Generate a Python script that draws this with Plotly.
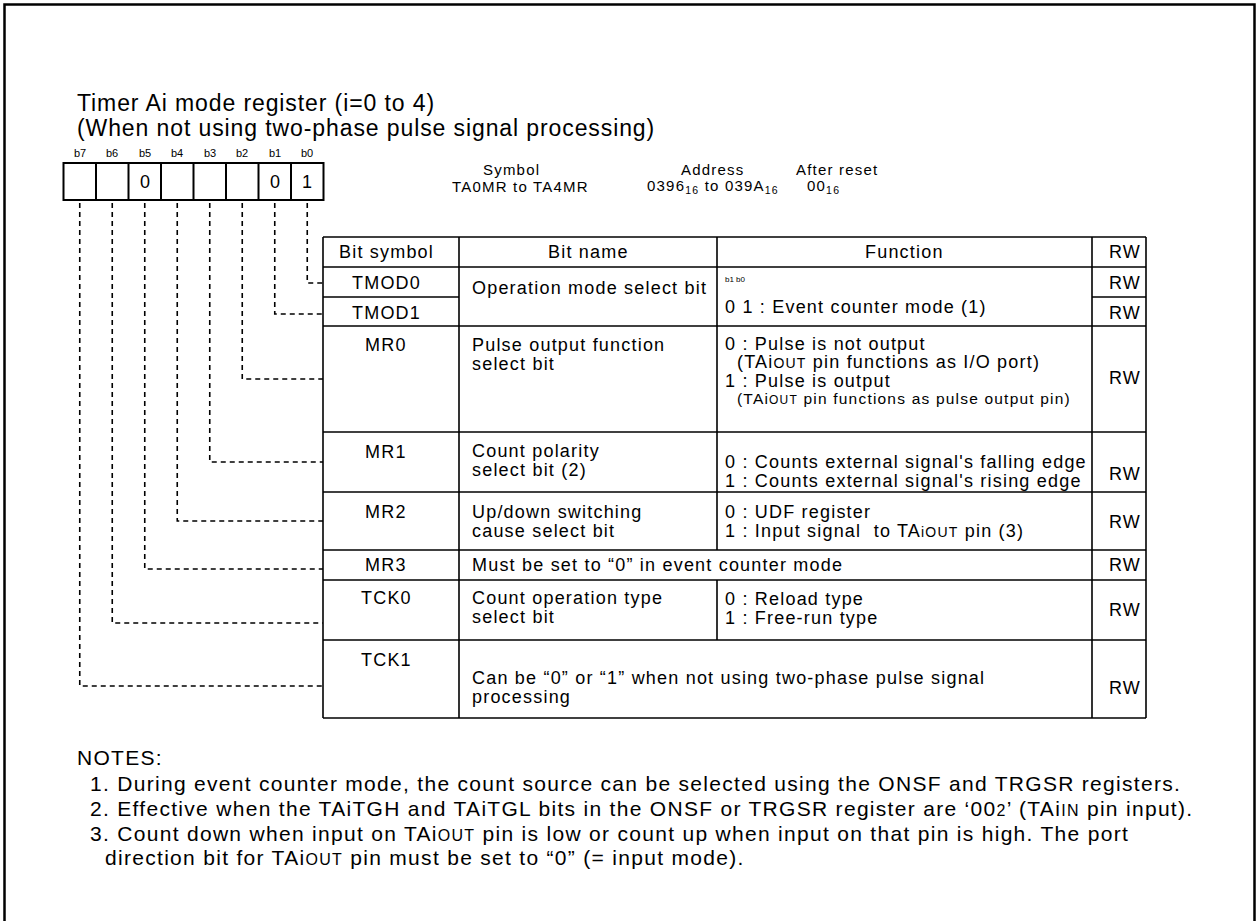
import plotly.graph_objects as go

W, H = 1257, 921
FONT = "Liberation Sans, Arial, Helvetica, sans-serif"


def sc(s, size=14):
    return f"<span style='font-size:{size}px'>{s}</span>"


# ---------------- data ----------------
title_lines = ["Timer Ai mode register (i=0 to 4)",
               "(When not using two-phase pulse signal processing)"]
bit_labels = ["b7", "b6", "b5", "b4", "b3", "b2", "b1", "b0"]
bit_values = ["", "", "0", "", "", "", "0", "1"]
reg_heads = ["Symbol", "Address", "After reset"]
reg_values = ["TA0MR to TA4MR",
              "0396<sub>16</sub> to 039A<sub>16</sub>",
              "00<sub>16</sub>"]
col_headers = ["Bit symbol", "Bit name", "Function", "RW"]
bit_symbols = ["TMOD0", "TMOD1", "MR0", "MR1", "MR2", "MR3", "TCK0", "TCK1"]
bit_of_symbol = ["b0", "b1", "b2", "b3", "b4", "b5", "b6", "b7"]
bit_names = [
    ["Operation mode select bit"],
    [],
    ["Pulse output function", "select bit"],
    ["Count polarity", "select bit (2)"],
    ["Up/down switching", "cause select bit"],
    ["Must be set to \u201c0\u201d in event counter mode"],
    ["Count operation type", "select bit"],
    ["Can be \u201c0\u201d or \u201c1\u201d when not using two-phase pulse signal", "processing"],
]
functions = [
    ["b1 b0", "0 1 : Event counter mode (1)"],
    [],
    ["0 : Pulse is not output",
     "(TAi" + sc("OUT") + " pin functions as I/O port)",
     "1 : Pulse is output",
     "<span style='font-size:15.5px'>(TAi" + sc("OUT", 12) + " pin functions as pulse output pin)</span>"],
    ["0 : Counts external signal's falling edge",
     "1 : Counts external signal's rising edge"],
    ["0 : UDF register",
     "1 : Input signal  to TA" + sc("iOUT") + " pin (3)"],
    [],
    ["0 : Reload type", "1 : Free-run type"],
    [],
]
rw = ["RW"] * 8
notes_head = "NOTES:"
notes = [
    "1. During event counter mode, the count source can be selected using the ONSF and TRGSR registers.",
    "2. Effective when the TAiTGH and TAiTGL bits in the ONSF or TRGSR register are \u201800" + sc("2", 16) + "\u2019 (TAi" + sc("IN", 16) + " pin input).",
    "3. Count down when input on TAi" + sc("OUT", 16) + " pin is low or count up when input on that pin is high. The port",
    "direction bit for TAi" + sc("OUT", 16) + " pin must be set to \u201c0\u201d (= input mode).",
]

# ---------------- layout geometry ----------------
BX0, BW, BY0, BY1 = 63.5, 32.5, 163, 200          # bit boxes
TX = [323, 459, 717, 1092, 1146]                   # table column edges
ROWS = [237, 267, 297, 326, 432, 492, 550, 580, 640, 718]  # header + 8 row edges
CONN_Y = [283, 314, 379, 462, 521, 569, 623, 686]  # connector heights per symbol
SYM_X, RW_X = 386, 1125
SYM_Y = [283, 313, 345, 452, 512, 565, 598, 660]
RW_Y = [283, 313, 378, 474, 522, 565, 610, 688]
NAME_Y = [[288], [], [345, 364], [451, 470], [512, 531], [565], [598, 617], [678, 697]]
FUNC_Y = [[279, 307], [], [344, 362, 380.5, 398], [462, 480.5], [512, 531], [], [599, 617.5], []]
FUNC_DX = [[0, 0], [], [0, 12, 0, 12], [0, 0], [0, 0], [], [0, 0], []]
TS, TLS = 18, 1.2          # table font size / letter spacing
NS, NLS = 21, 1.3          # notes
HS, HLS = 15, 1.2          # register header

shapes = []
ann = []


def line(x0, y0, x1, y1, w=1.6):
    shapes.append(dict(type="line", x0=x0, y0=y0, x1=x1, y1=y1, xref="x", yref="y",
                       line=dict(color="black", width=w)))


def text(x, y, s, size=TS, xanchor="left", ls=0.0, yanchor="middle"):
    if ls:
        s = f"<span style='letter-spacing:{ls}px'>{s}</span>"
    ann.append(dict(x=x, y=y, xref="x", yref="y", text=s, showarrow=False,
                    xanchor=xanchor, yanchor=yanchor,
                    font=dict(family=FONT, size=size, color="black")))


# outer frame (open at the bottom edge of the picture)
shapes.append(dict(type="rect", x0=4.5, y0=4.5, x1=1254.5, y1=960, xref="x", yref="y",
                   line=dict(color="black", width=2.5)))

# titles
text(75, 103, title_lines[0], 23, ls=0.9)
text(75, 128, title_lines[1], 23, ls=0.9)

# bit boxes
shapes.append(dict(type="rect", x0=BX0, y0=BY0, x1=BX0 + 8 * BW, y1=BY1, xref="x",
                   yref="y", line=dict(color="black", width=2)))
for i in range(1, 8):
    line(BX0 + i * BW, BY0, BX0 + i * BW, BY1, 2)
for i, (lab, v) in enumerate(zip(bit_labels, bit_values)):
    cx = BX0 + (i + 0.5) * BW
    text(cx, 153, lab, 11, "center")
    if v:
        text(cx, 182, v, 18, "center")

# register header
reg_cx = [511, 712, 837]
reg_vx = [520, 713, 823]
for h, v, cx, vx in zip(reg_heads, reg_values, reg_cx, reg_vx):
    text(cx, 169, h, HS, "center", HLS)
    text(vx, 186, v, HS, "center", HLS)

# table lines
top, bot = ROWS[0], ROWS[-1]
spanning = {5, 7}          # rows whose bit name spans the function column
for x in (TX[0], TX[1], TX[3], TX[4]):
    line(x, top, x, bot)
for r in range(-1, 8):
    if r in spanning:
        continue
    line(TX[2], ROWS[r + 1], TX[2], ROWS[r + 2])
for i, y in enumerate(ROWS):
    if i == 2:  # TMOD0/TMOD1 divider only on symbol and RW columns
        line(TX[0], y, TX[1], y)
        line(TX[3], y, TX[4], y)
    else:
        line(TX[0], y, TX[4], y)

# header text
hy = (ROWS[0] + ROWS[1]) / 2
head_x = [SYM_X, (TX[1] + TX[2]) / 2, (TX[2] + TX[3]) / 2, RW_X]
for hx, h in zip(head_x, col_headers):
    text(hx, hy, h, TS, "center", TLS)

for r, sym in enumerate(bit_symbols):
    text(SYM_X, SYM_Y[r], sym, TS, "center", TLS)
    text(RW_X, RW_Y[r], rw[r], TS, "center", TLS)
    for n, y in zip(bit_names[r], NAME_Y[r]):
        text(TX[1] + 11, y, n, TS, ls=TLS)
    for k, (f, y, dx) in enumerate(zip(functions[r], FUNC_Y[r], FUNC_DX[r])):
        if r == 0 and k == 0:
            text(TX[2] + 6 + dx, y, f, 8)
        else:
            text(TX[2] + 6 + dx, y, f, TS, ls=TLS)

# dashed connectors from bit boxes to the table
for sym_i, b in enumerate(bit_of_symbol):
    idx = bit_labels.index(b)
    cx = BX0 + (idx + 0.5) * BW
    cy = CONN_Y[sym_i]
    shapes.append(dict(type="path", path=f"M {cx},{BY1 + 3} L {cx},{cy} L {TX[0]},{cy}",
                       xref="x", yref="y",
                       line=dict(color="black", width=1.6, dash="5px,4px")))

# notes
text(75, 757, notes_head, NS, ls=NLS)
note_x = [88, 88, 88, 103]
note_y = [783, 808, 833, 857]
for s, x, y in zip(notes, note_x, note_y):
    text(x, y, s, NS, ls=NLS)

fig = go.Figure()
fig.update_layout(
    width=W, height=H, margin=dict(l=0, r=0, t=0, b=0),
    paper_bgcolor="white", plot_bgcolor="white",
    xaxis=dict(range=[0, W], visible=False, fixedrange=True),
    yaxis=dict(range=[H, 0], visible=False, fixedrange=True),
    shapes=shapes, annotations=ann, showlegend=False,
)
fig.write_html("out.html", config={"displayModeBar": False},
               post_script="document.body.style.margin='0';")
